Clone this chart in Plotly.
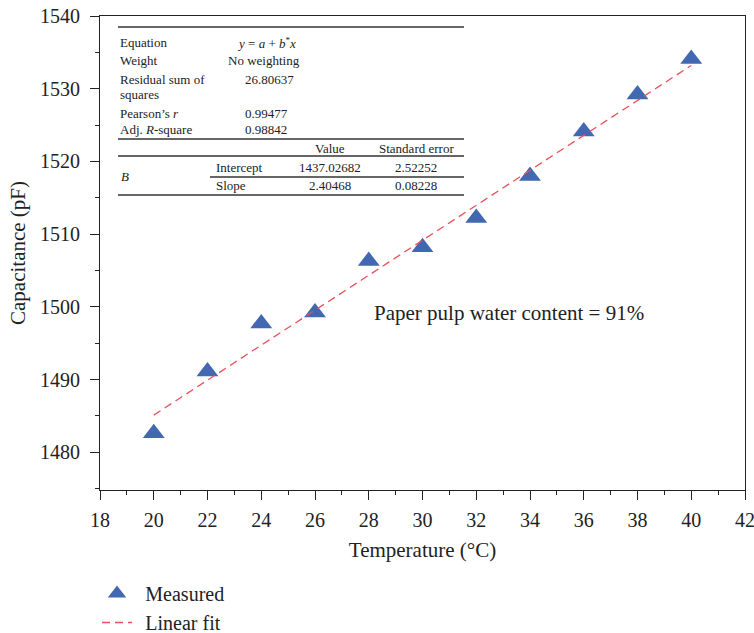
import plotly.graph_objects as go

# ---- data ----
temperature = [20, 22, 24, 26, 28, 30, 32, 34, 36, 38, 40]
capacitance = [1482.6, 1491.1, 1497.7, 1499.2, 1506.3, 1508.2, 1512.2, 1518.0, 1524.1, 1529.2, 1534.1]
fit_x = [20, 40]
fit_y = [1485.1, 1533.2]
x_ticks = [18, 20, 22, 24, 26, 28, 30, 32, 34, 36, 38, 40, 42]
y_ticks = [1480, 1490, 1500, 1510, 1520, 1530, 1540]

table_stats = [
    ("Equation", "<i>y</i> = <i>a</i> + <i>b</i><sup>*</sup><i>x</i>"),
    ("Weight", "No weighting"),
    ("Residual sum of", "26.80637"),
    ("squares", ""),
    ("Pearson’s <i>r</i>", "0.99477"),
    ("Adj. <i>R</i>-square", "0.98842"),
]
param_header = ["Value", "Standard error"]
param_rows = [("Intercept", "1437.02682", "2.52252"), ("Slope", "2.40468", "0.08228")]

W, H = 754, 633
L, R, T, B = 100, 745, 16, 490
FONT = "Liberation Serif"
INK = "#222"


def px(x):
    return (x - L) / (R - L)


def py(y):
    return (B - y) / (B - T)


fig = go.Figure()
fig.add_trace(go.Scatter(
    x=temperature, y=capacitance, mode="markers", name="\u2005\u2006Measured",
    marker=dict(symbol="triangle-up", size=19, color="#4168B0", line=dict(width=0)),
))
fig.add_trace(go.Scatter(
    x=fit_x, y=fit_y, mode="lines", name="\u2005\u2006Linear fit",
    line=dict(color="#E8505A", width=1.3, dash="8px,5px"),
))

shapes = []
annotations = []

# table lines
for (x0, x1, y) in [(118, 464, 27), (118, 464, 139), (118, 464, 156), (210, 464, 177), (118, 464, 195)]:
    shapes.append(dict(type="line", xref="paper", yref="paper", x0=px(x0), x1=px(x1),
                       y0=py(y), y1=py(y), line=dict(color="#333", width=1.3)))

tf = dict(family=FONT, size=13, color=INK)
row_y = [43, 61, 79, 95, 113, 130]
val_x = [266, 264, 269, 269, 266, 266]
for (lab, val), yy, vx in zip(table_stats, row_y, val_x):
    annotations.append(dict(xref="paper", yref="paper", x=px(118), y=py(yy), text=lab,
                            showarrow=False, xanchor="left", yanchor="middle", font=tf))
    if val:
        annotations.append(dict(xref="paper", yref="paper", x=px(vx), y=py(yy), text=val,
                                showarrow=False, xanchor="center", yanchor="middle", font=tf))
for txt, cx in zip(param_header, [330, 416]):
    annotations.append(dict(xref="paper", yref="paper", x=px(cx), y=py(148), text=txt,
                            showarrow=False, xanchor="center", yanchor="middle", font=tf))
annotations.append(dict(xref="paper", yref="paper", x=px(119), y=py(176), text="<i>B</i>",
                        showarrow=False, xanchor="left", yanchor="middle", font=tf))
for (name, v, se), yy in zip(param_rows, [167, 185]):
    annotations.append(dict(xref="paper", yref="paper", x=px(214), y=py(yy), text=name,
                            showarrow=False, xanchor="left", yanchor="middle", font=tf))
    annotations.append(dict(xref="paper", yref="paper", x=px(330), y=py(yy), text=v,
                            showarrow=False, xanchor="center", yanchor="middle", font=tf))
    annotations.append(dict(xref="paper", yref="paper", x=px(416), y=py(yy), text=se,
                            showarrow=False, xanchor="center", yanchor="middle", font=tf))

annotations.append(dict(xref="paper", yref="paper", x=px(372), y=py(313),
                        text="Paper pulp water content = 91%", showarrow=False,
                        xanchor="left", yanchor="middle",
                        font=dict(family=FONT, size=21, color=INK)))

fig.update_layout(
    width=W, height=H,
    margin=dict(l=L, r=W - R, t=T, b=H - B, autoexpand=False),
    paper_bgcolor="white", plot_bgcolor="white",
    font=dict(family=FONT, size=19, color=INK),
    showlegend=True,
    legend=dict(x=px(97), y=py(574), xanchor="left", yanchor="top",
                font=dict(family=FONT, size=20, color=INK),
                bgcolor="rgba(0,0,0,0)", tracegroupgap=0, itemwidth=30),
    shapes=shapes,
    annotations=annotations,
    xaxis=dict(
        range=[18, 42], tickvals=x_ticks, ticktext=[str(v) for v in x_ticks],
        showgrid=False, zeroline=False, showline=True, mirror=True, linecolor=INK, linewidth=1.2,
        ticks="outside", ticklen=9, tickwidth=1.2, tickcolor=INK,
        minor=dict(dtick=1, tick0=18, ticks="outside", ticklen=4, tickwidth=1.1, tickcolor=INK),
        tickfont=dict(family=FONT, size=20, color=INK),
        title=dict(text="Temperature (°C)", font=dict(family=FONT, size=21, color=INK), standoff=12),
        ticklabelstandoff=3, ticklabeloverflow="allow",
    ),
    yaxis=dict(
        range=[1474.8, 1540], tickvals=y_ticks, ticktext=[str(v) for v in y_ticks],
        showgrid=False, zeroline=False, showline=True, mirror=True, linecolor=INK, linewidth=1.2,
        ticks="outside", ticklen=9, tickwidth=1.2, tickcolor=INK,
        minor=dict(dtick=5, tick0=1475, ticks="outside", ticklen=4, tickwidth=1.1, tickcolor=INK),
        tickfont=dict(family=FONT, size=20, color=INK),
        title=dict(text="Capacitance (pF)", font=dict(family=FONT, size=21, color=INK), standoff=8),
        ticklabelstandoff=6, ticklabeloverflow="allow",
    ),
)

fig.write_html("out.html")
